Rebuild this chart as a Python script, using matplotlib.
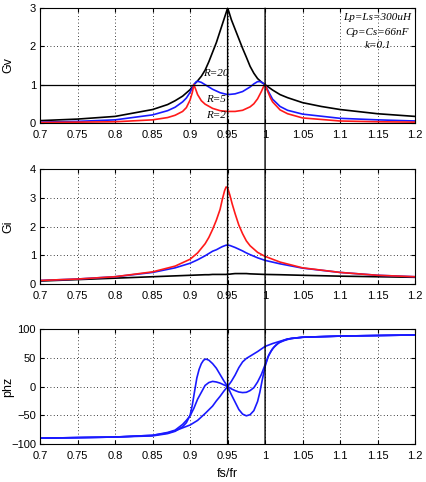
import matplotlib
matplotlib.use("Agg")
import matplotlib.pyplot as plt
from matplotlib.patches import ConnectionPatch

plt.rcParams['font.family'] = ['Liberation Sans', 'DejaVu Sans']
plt.rcParams['font.size'] = 8

# Gv vs fs/fr
gv_x_black = [0.70, 0.75, 0.80, 0.85, 0.87, 0.88, 0.89, 0.90, 0.905, 0.91, 0.915, 0.92, 0.925,
              0.93, 0.935, 0.94, 0.945, 0.948, 0.95, 0.952, 0.955, 0.96, 0.965, 0.97, 0.975,
              0.98, 0.985, 0.99, 0.995, 1.00, 1.01, 1.02, 1.03, 1.05, 1.075, 1.10, 1.15, 1.20]
gv_black = [0.06, 0.10, 0.17, 0.35, 0.48, 0.58, 0.70, 0.87, 1.00, 1.10, 1.22, 1.38, 1.60,
            1.85, 2.10, 2.40, 2.70, 2.88, 3.00, 2.89, 2.70, 2.45, 2.20, 1.95, 1.72,
            1.48, 1.30, 1.16, 1.07, 1.00, 0.86, 0.74, 0.66, 0.53, 0.43, 0.35, 0.24, 0.17]

gv_x_blue = [0.70, 0.75, 0.80, 0.85, 0.87, 0.88, 0.89, 0.895, 0.90, 0.903, 0.905, 0.908, 0.91,
             0.915, 0.92, 0.93, 0.94, 0.95, 0.96, 0.97, 0.98, 0.985, 0.99, 0.994, 0.997, 1.00,
             1.005, 1.01, 1.02, 1.03, 1.05, 1.10, 1.15, 1.20]
gv_blue = [0.02, 0.04, 0.08, 0.21, 0.32, 0.41, 0.55, 0.65, 0.80, 0.92, 1.00, 1.07, 1.09,
           1.06, 1.00, 0.88, 0.79, 0.74, 0.76, 0.82, 0.94, 1.02, 1.08, 1.08, 1.04, 1.00,
           0.80, 0.62, 0.43, 0.33, 0.23, 0.12, 0.08, 0.05]

gv_x_red = [0.70, 0.75, 0.80, 0.85, 0.87, 0.88, 0.89, 0.895, 0.90, 0.903, 0.905, 0.908, 0.91,
            0.915, 0.92, 0.93, 0.94, 0.95, 0.96, 0.97, 0.98, 0.985, 0.99, 0.995, 0.998, 1.00,
            1.003, 1.007, 1.01, 1.02, 1.03, 1.05, 1.10, 1.15, 1.20]
gv_red = [0.01, 0.02, 0.03, 0.08, 0.14, 0.20, 0.30, 0.40, 0.60, 0.80, 1.00, 0.85, 0.74,
          0.58, 0.49, 0.38, 0.32, 0.30, 0.30, 0.33, 0.42, 0.50, 0.63, 0.82, 0.95, 1.00,
          0.85, 0.66, 0.55, 0.34, 0.24, 0.13, 0.05, 0.03, 0.02]

# Gi vs fs/fr
gi_x = [0.70, 0.75, 0.80, 0.85, 0.88, 0.90, 0.91, 0.92, 0.925, 0.93, 0.935, 0.94, 0.943,
        0.946, 0.948, 0.95, 0.953, 0.956, 0.96, 0.965, 0.97, 0.975, 0.98, 0.99, 1.00,
        1.02, 1.05, 1.10, 1.15, 1.20]
gi_red = [0.12, 0.17, 0.25, 0.42, 0.62, 0.86, 1.08, 1.40, 1.62, 1.90, 2.22, 2.60, 2.95,
          3.25, 3.38, 3.35, 3.10, 2.80, 2.45, 2.05, 1.75, 1.50, 1.33, 1.10, 0.96,
          0.76, 0.56, 0.40, 0.30, 0.25]
gi_blue = [0.12, 0.17, 0.25, 0.40, 0.56, 0.72, 0.84, 0.98, 1.06, 1.14, 1.19, 1.26, 1.30,
           1.33, 1.35, 1.35, 1.34, 1.31, 1.27, 1.21, 1.15, 1.08, 1.02, 0.91, 0.82,
           0.70, 0.55, 0.40, 0.30, 0.25]
gi_black = [0.10, 0.15, 0.20, 0.25, 0.28, 0.30, 0.31, 0.32, 0.32, 0.33, 0.33, 0.33, 0.33,
            0.33, 0.33, 0.34, 0.34, 0.35, 0.36, 0.36, 0.36, 0.36, 0.35, 0.34, 0.33,
            0.32, 0.30, 0.27, 0.25, 0.23]

# phase vs fs/fr, three cases
ph_x_a = [0.70, 0.75, 0.80, 0.85, 0.87, 0.88, 0.89, 0.90, 0.91, 0.92, 0.93, 0.935, 0.94,
          0.945, 0.95, 0.955, 0.96, 0.965, 0.97, 0.975, 0.98, 0.99, 1.00, 1.01, 1.02, 1.03,
          1.05, 1.10, 1.15, 1.20]
ph_a = [-90, -89, -88, -85, -81, -77, -72, -67, -59, -47, -34, -25, -17,
        -8, 0, 9, 20, 33, 43, 49, 53, 61, 70, 75, 79, 83,
        86, 88, 89, 90]

ph_x_b = [0.70, 0.75, 0.80, 0.85, 0.87, 0.88, 0.89, 0.895, 0.90, 0.903, 0.906, 0.909, 0.912,
          0.915, 0.918, 0.921, 0.925, 0.93, 0.935, 0.94, 0.945, 0.95, 0.955, 0.96, 0.965,
          0.97, 0.975, 0.98, 0.985, 0.99, 0.993, 0.996, 1.00, 1.004, 1.008, 1.012, 1.018,
          1.025, 1.035, 1.05, 1.10, 1.15, 1.20]
ph_b = [-90, -89, -88, -86, -82, -78, -70, -63, -50, -32, -8, 15, 30,
        40, 46, 48, 46, 40, 32, 21, 10, 0, -14, -27, -40,
        -48, -51, -49, -42, -26, -10, 10, 35, 52, 62, 69, 76,
        80, 84, 86, 88, 89, 90]

ph_x_c = [0.70, 0.75, 0.80, 0.85, 0.87, 0.88, 0.89, 0.895, 0.90, 0.905, 0.91, 0.915, 0.92,
          0.925, 0.93, 0.935, 0.94, 0.945, 0.95, 0.955, 0.96, 0.965, 0.97, 0.975, 0.98,
          0.985, 0.99, 0.995, 1.00, 1.005, 1.01, 1.015, 1.02, 1.03, 1.05, 1.10, 1.15, 1.20]
ph_c = [-90, -89, -88, -85, -80, -76, -66, -59, -51, -38, -22, -10, 2,
        7, 9, 8, 6, 3, 0, -4, -7, -9.5, -10.5, -10, -7,
        -2, 8, 21, 38, 55, 66, 73, 78, 83, 86, 88, 89, 90]

xticks = [0.7, 0.75, 0.8, 0.85, 0.9, 0.95, 1.0, 1.05, 1.1, 1.15, 1.2]
xticklabels = ['0.7', '0.75', '0.8', '0.85', '0.9', '0.95', '1', '1.05', '1.1', '1.15', '1.2']

blue = '#1a1aff'
red = '#ff1a1a'
lw = 1.2

fig = plt.figure(figsize=(4.27, 4.82), dpi=100)
ax1 = fig.add_axes([0.094, 0.745, 0.878, 0.238])
ax2 = fig.add_axes([0.094, 0.411, 0.878, 0.238])
ax3 = fig.add_axes([0.094, 0.079, 0.878, 0.238])

ax1.plot(gv_x_black, gv_black, color='black', lw=lw)
ax1.plot(gv_x_blue, gv_blue, color=blue, lw=lw)
ax1.plot(gv_x_red, gv_red, color=red, lw=lw)
ax1.axhline(1, color='black', lw=0.9)
ax1.set_ylim(0, 3)
ax1.set_yticks([0, 1, 2, 3])
ax1.set_ylabel('Gv', fontsize=9)

serif = dict(family=['Liberation Serif', 'DejaVu Serif'], style='italic', fontsize=8)
ax1.text(1.15, 2.75, 'Lp=Ls=300uH', ha='center', va='center', **serif)
ax1.text(1.15, 2.37, 'Cp=Cs=66nF', ha='center', va='center', **serif)
ax1.text(1.15, 2.02, 'k=0.1', ha='center', va='center', **serif)
ax1.text(0.934, 1.28, 'R=20', ha='center', va='center', **serif)
ax1.text(0.935, 0.62, 'R=5', ha='center', va='center', **serif)
ax1.text(0.934, 0.20, 'R=2', ha='center', va='center', **serif)

ax2.plot(gi_x, gi_black, color='black', lw=lw)
ax2.plot(gi_x, gi_blue, color=blue, lw=lw)
ax2.plot(gi_x, gi_red, color=red, lw=lw)
ax2.set_ylim(0, 4)
ax2.set_yticks([0, 1, 2, 3, 4])
ax2.set_ylabel('Gi', fontsize=9)

ax3.plot(ph_x_a, ph_a, color=blue, lw=lw)
ax3.plot(ph_x_b, ph_b, color=blue, lw=lw)
ax3.plot(ph_x_c, ph_c, color=blue, lw=lw)
ax3.set_ylim(-100, 100)
ax3.set_yticks([-100, -50, 0, 50, 100])
ax3.set_ylabel('phz', fontsize=9)
ax3.set_xlabel('fs/fr', fontsize=9, labelpad=5)

for ax in (ax1, ax2, ax3):
    ax.set_xlim(0.7, 1.2)
    ax.set_xticks(xticks)
    ax.set_xticklabels(xticklabels)
    ax.grid(True, color='black', linestyle=(0, (1, 3)), lw=0.6)
    ax.tick_params(direction='in', length=3, top=True, right=True, labelsize=8)
    ax.tick_params(axis='x', pad=5)
    ax.tick_params(axis='y', pad=3)
    ax.yaxis.set_label_coords(-0.07, 0.5)

# the two vertical markers run through all three panels
for xv in (0.95, 1.0):
    con = ConnectionPatch(xyA=(xv, 3), coordsA=ax1.transData,
                          xyB=(xv, -100), coordsB=ax3.transData,
                          color='black', lw=1.0)
    fig.add_artist(con)

fig.savefig('out.png', dpi=100)
